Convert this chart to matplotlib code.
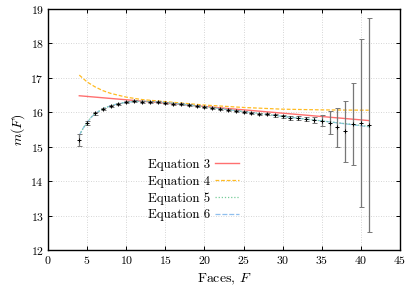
import matplotlib
matplotlib.use('Agg')
import matplotlib.pyplot as plt

# measured m(F) with error bars
faces = list(range(4, 42))
m_obs = [15.20, 15.70, 15.97, 16.10, 16.19, 16.25, 16.29, 16.32, 16.31, 16.30,
         16.29, 16.27, 16.25, 16.23, 16.21, 16.18, 16.15, 16.12, 16.09, 16.06,
         16.04, 16.02, 15.99, 15.96, 15.94, 15.91, 15.88, 15.84, 15.83, 15.80,
         15.77, 15.76, 15.70, 15.56, 15.45, 15.65, 15.68, 15.62]
m_err = [0.17, 0.06, 0.04, 0.03, 0.03, 0.03, 0.03, 0.03, 0.03, 0.03,
         0.03, 0.03, 0.03, 0.03, 0.03, 0.03, 0.03, 0.03, 0.03, 0.03,
         0.03, 0.03, 0.03, 0.03, 0.03, 0.04, 0.04, 0.05, 0.05, 0.06,
         0.09, 0.15, 0.33, 0.56, 0.89, 1.19, 2.44, 3.11]

# model curves
f_eq3 = [4, 41]
m_eq3 = [16.48, 15.76]
f_eq4 = [4, 5, 6, 7, 8, 10, 12, 14, 16, 20, 25, 30, 35, 41]
m_eq4 = [17.08, 16.88, 16.74, 16.63, 16.55, 16.44, 16.37, 16.33, 16.29, 16.21,
         16.14, 16.09, 16.07, 16.06]
f_fit = [4, 4.5, 5, 5.5, 6, 7, 8, 9, 10, 11, 12, 14, 16, 20, 25, 30, 35, 41]
m_eq5 = [15.33, 15.54, 15.70, 15.85, 15.96, 16.10, 16.19, 16.25, 16.29, 16.31,
         16.32, 16.30, 16.26, 16.16, 16.02, 15.88, 15.75, 15.59]
m_eq6 = [15.33, 15.54, 15.70, 15.85, 15.96, 16.10, 16.19, 16.25, 16.29, 16.31,
         16.32, 16.30, 16.26, 16.16, 16.02, 15.88, 15.75, 15.58]

x_ticks = list(range(0, 46, 5))
y_ticks = list(range(12, 20))

plt.rcParams['font.family'] = 'serif'
plt.rcParams['font.serif'] = ['cmr10', 'DejaVu Serif']
plt.rcParams['mathtext.fontset'] = 'cm'
plt.rcParams['axes.formatter.use_mathtext'] = True

fig = plt.figure(figsize=(4.15, 2.91), dpi=100)
ax = fig.add_axes([48 / 415, 1 - 250 / 291, 352 / 415, 241 / 291])

ax.plot(f_eq3, m_eq3, color='#ff7070', lw=1.0, label='Equation 3', zorder=3)
ax.plot(f_eq4, m_eq4, color='#ffbb22', lw=0.9, ls=(0, (3, 1.5)), label='Equation 4', zorder=3)
ax.plot(f_fit, m_eq6, color='#8fbfee', lw=0.9, ls=(0, (4, 1.5)), label='Equation 6', zorder=3)
ax.plot(f_fit, m_eq5, color='#77cc99', lw=0.9, ls=(0, (1, 1.5)), label='Equation 5', zorder=3)
ax.errorbar(faces, m_obs, yerr=m_err, fmt='+', color='black', ms=3.5, mew=0.7,
            ecolor='#777777', elinewidth=0.9, capsize=1.8, capthick=0.7, zorder=4)

ax.set_xlim(0, 45)
ax.set_ylim(12, 19)
ax.set_xticks(x_ticks)
ax.set_yticks(y_ticks)
ax.tick_params(direction='in', top=True, right=True, length=3, width=0.7,
               labelsize=8.5, pad=3)
ax.grid(True, color='#c8c8c8', ls=(0, (1, 2)), lw=0.6)
for sp in ax.spines.values():
    sp.set_linewidth(1.0)

ax.set_xlabel('Faces, $F$', fontsize=10, labelpad=4)
ax.set_ylabel('$m(F)$', fontsize=10, labelpad=2)

h, l = ax.get_legend_handles_labels()
order = [0, 1, 3, 2]
ax.legend([h[i] for i in order], [l[i] for i in order], loc='upper left',
          bbox_to_anchor=(0.27, 0.40), frameon=False, markerfirst=False,
          fontsize=9.3, handlelength=1.8, handletextpad=0.4, labelspacing=0.36,
          borderaxespad=0)

fig.savefig('out.png', dpi=100)
